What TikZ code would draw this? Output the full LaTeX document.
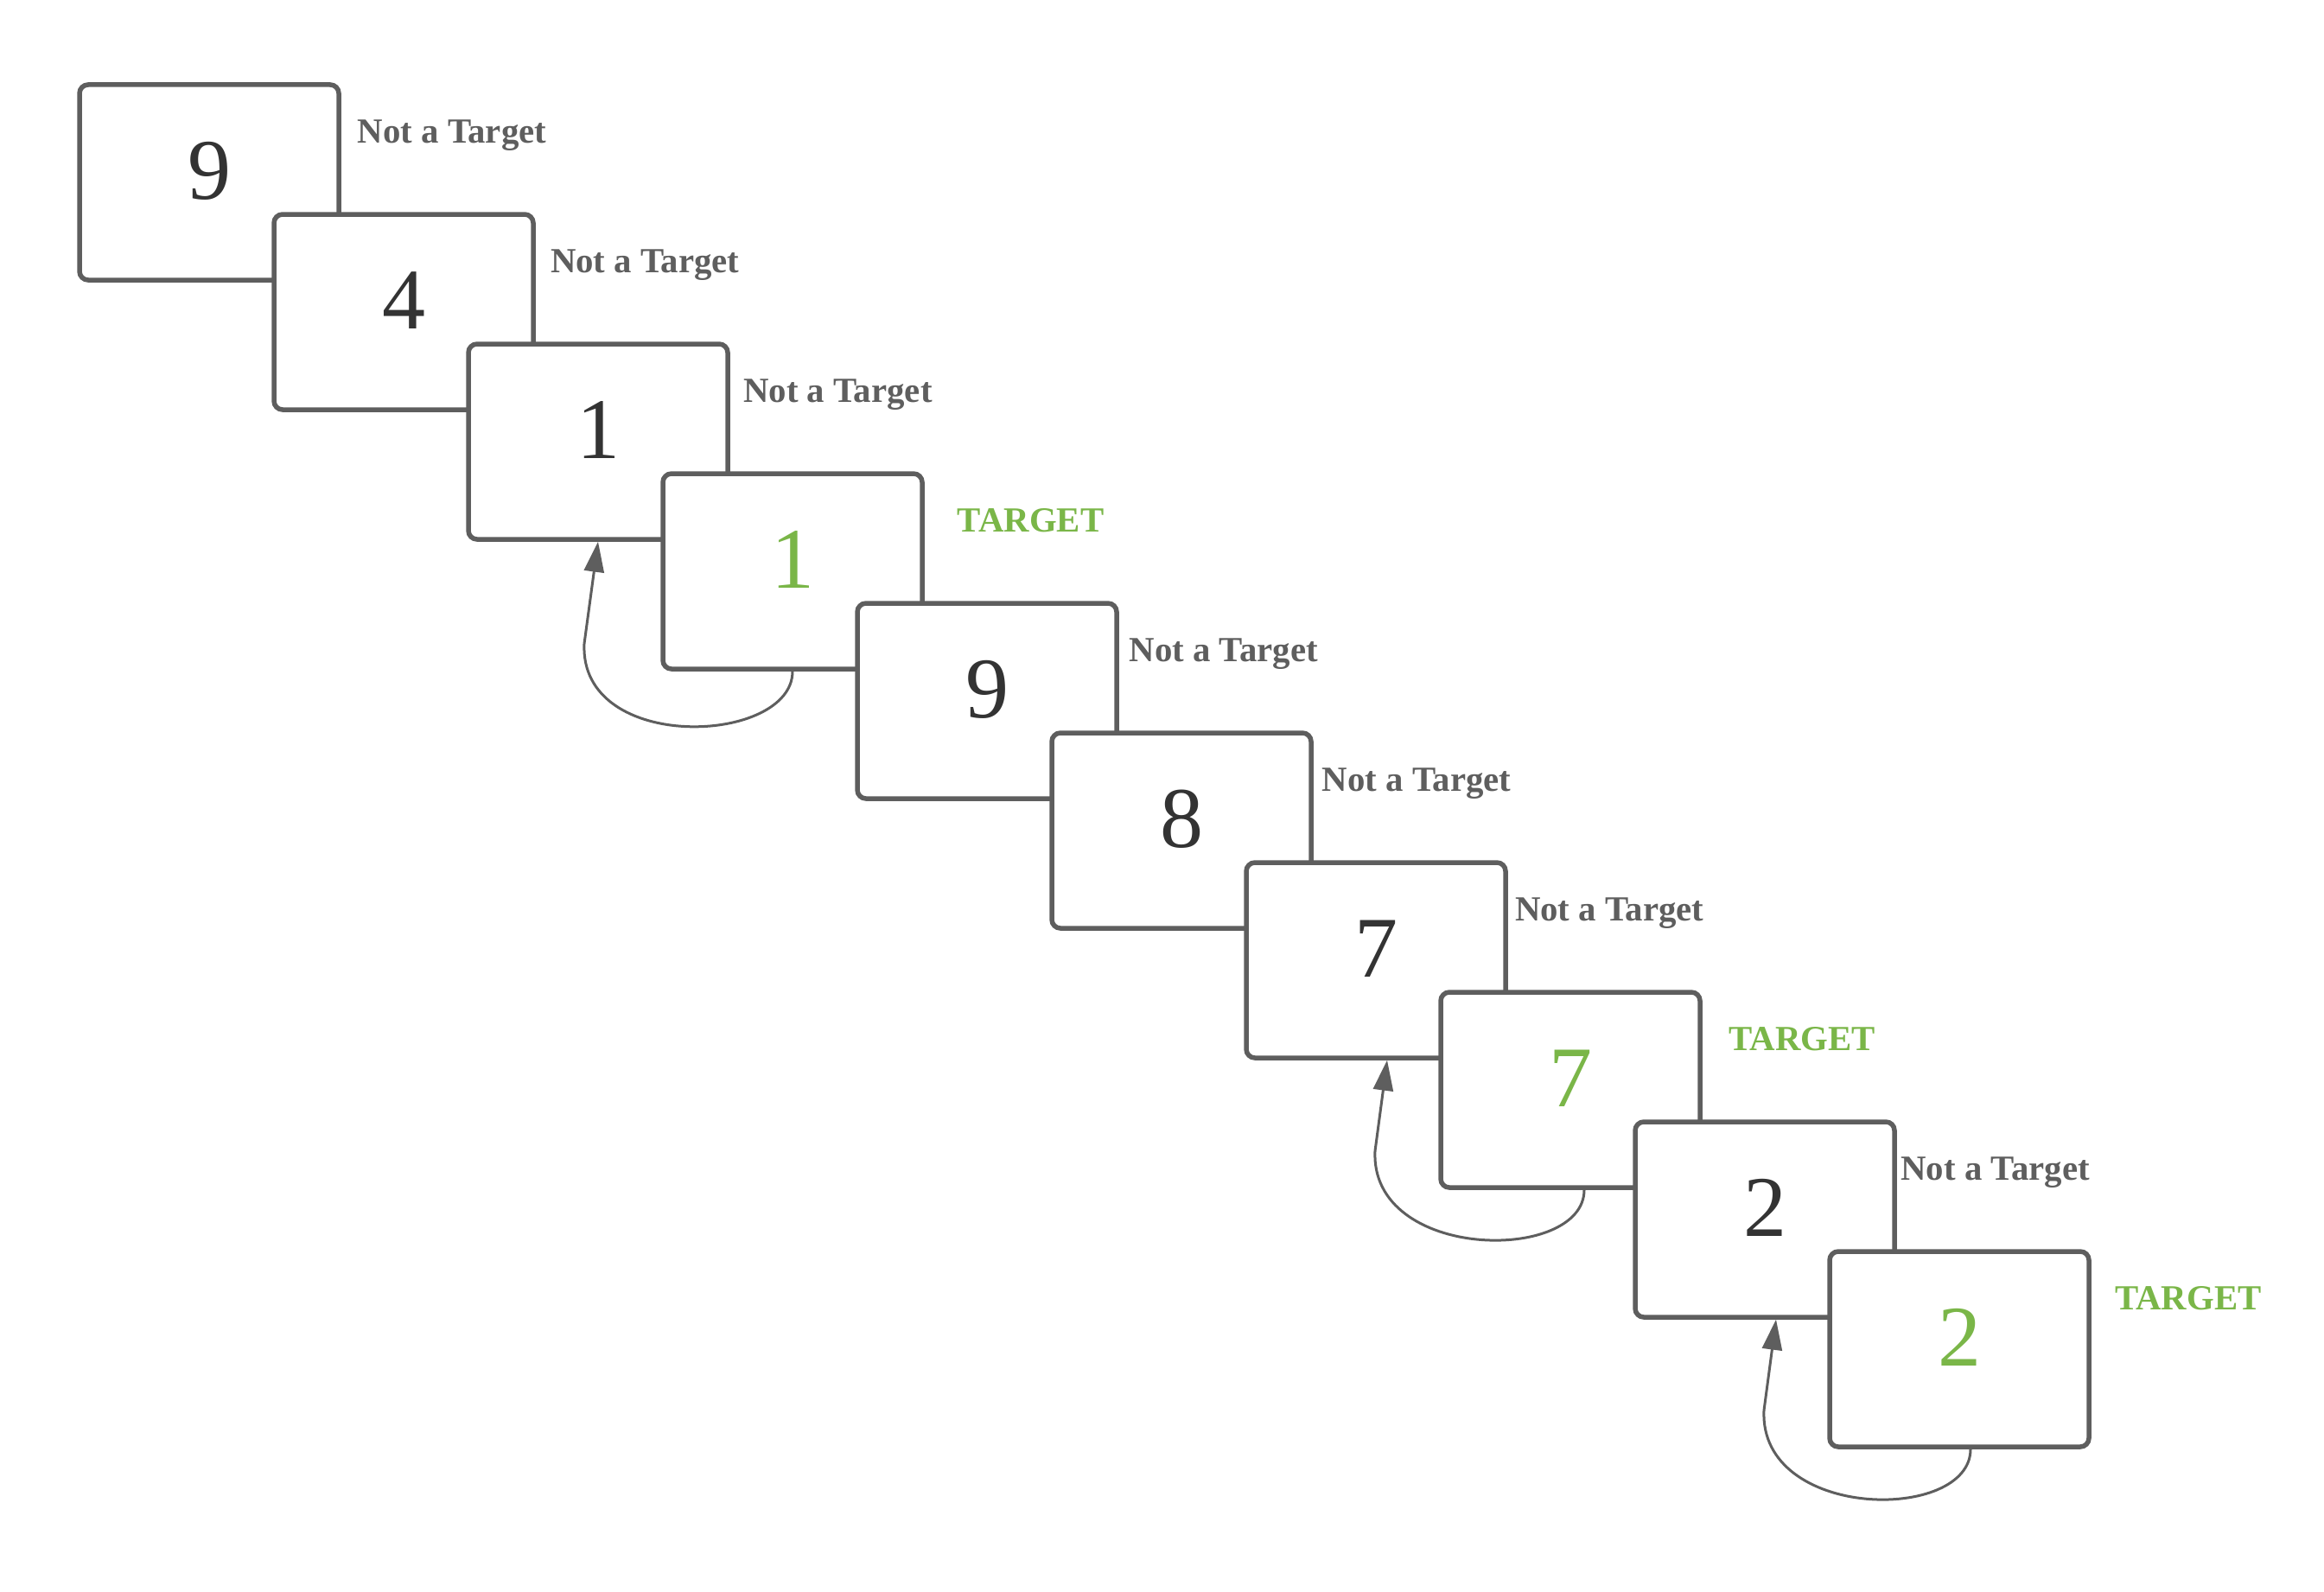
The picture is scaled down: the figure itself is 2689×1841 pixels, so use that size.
\documentclass[tikz,border=0pt]{standalone}
\usepackage{fontspec}
\setmainfont{Liberation Serif}
\usetikzlibrary{arrows.meta,calc}
\definecolor{lgray}{HTML}{5E5E5E}
\definecolor{dtext}{HTML}{333333}
\definecolor{lgreen}{HTML}{7AB648}
\begin{document}
\begin{tikzpicture}[x=1pt,y=-1pt,
 card/.style={draw=lgray, fill=white, line width=5.5pt, rounded corners=10pt, minimum width=300pt, minimum height=226pt, inner sep=0pt},
 digit/.style={font=\fontsize{100}{120}\selectfont, text=dtext, anchor=base, inner sep=0pt},
 tdigit/.style={digit, text=lgreen},
 lab/.style={font=\fontsize{40.8}{48}\selectfont\bfseries, text=lgray, anchor=base, inner sep=0pt},
 tlab/.style={lab, text=lgreen},
 arr/.style={draw=lgray, line width=3pt, -{Triangle[length=35pt,width=23pt]}}]
\fill[white] (0,0) rectangle (2689,1841);
\useasboundingbox (0,0) rectangle (2689,1841);

\node[card] (b1) at (242,211) {};
\node[digit] (d1) at ($(b1.center)+(0,19)$) {9};
\node[card] (b2) at (467,361) {};
\node[digit] (d2) at ($(b2.center)+(0,19)$) {4};
\node[card] (b3) at (692,511) {};
\node[digit] (d3) at ($(b3.center)+(0,19)$) {1};
\node[card] (b4) at (917,661) {};
\node[tdigit] (d4) at ($(b4.center)+(0,19)$) {1};
\node[card] (b5) at (1142,811) {};
\node[digit] (d5) at ($(b5.center)+(0,19)$) {9};
\node[card] (b6) at (1367,961) {};
\node[digit] (d6) at ($(b6.center)+(0,19)$) {8};
\node[card] (b7) at (1592,1111) {};
\node[digit] (d7) at ($(b7.center)+(0,19)$) {7};
\node[card] (b8) at (1817,1261) {};
\node[tdigit] (d8) at ($(b8.center)+(0,19)$) {7};
\node[card] (b9) at (2042,1411) {};
\node[digit] (d9) at ($(b9.center)+(0,19)$) {2};
\node[card] (b10) at (2267,1561) {};
\node[tdigit] (d10) at ($(b10.center)+(0,19)$) {2};

\node[lab] (l1) at (523,165) {Not a Target};
\node[lab] (l2) at (746.2,315) {Not a Target};
\node[lab] (l3) at (969.4,465) {Not a Target};
\node[tlab] (l4) at (1192.6,615) {TARGET};
\node[lab] (l5) at (1415.8,765) {Not a Target};
\node[lab] (l6) at (1639,915) {Not a Target};
\node[lab] (l7) at (1862.2,1065) {Not a Target};
\node[tlab] (l8) at (2085.4,1215) {TARGET};
\node[lab] (l9) at (2308.6,1365) {Not a Target};
\node[tlab] (l10) at (2531.8,1515) {TARGET};

\draw[arr] (b4.south) .. controls +(0,85) and +(-6,128) .. ($(b3.south)+(-16,118)$) -- (b3.south);
\draw[arr] ($(b8.south)+(16,0)$) .. controls +(0,85) and +(-6,128) .. ($(b7.south)+(-1,105)$) -- ($(b7.south)+(13,0)$);
\draw[arr] ($(b10.south)+(13,0)$) .. controls +(0,85) and +(-6,128) .. ($(b9.south)+(-1,105)$) -- ($(b9.south)+(13,0)$);
\end{tikzpicture}
\end{document}
